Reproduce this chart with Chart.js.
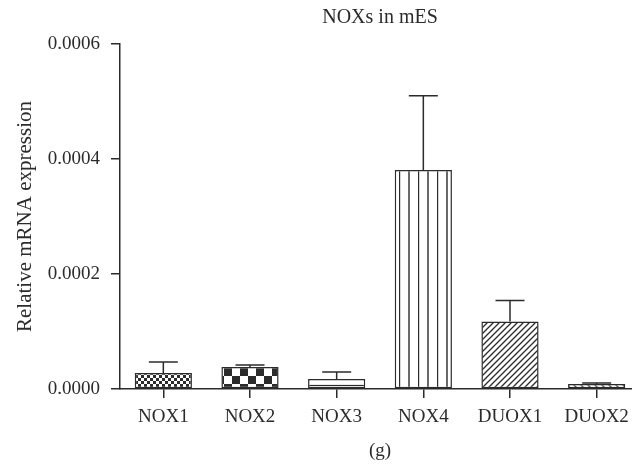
<!DOCTYPE html>
<html>
<head>
<meta charset="utf-8">
<script src="https://cdn.jsdelivr.net/npm/chart.js@4.4.0/dist/chart.umd.min.js"></script>
<style>
  html, body { margin: 0; padding: 0; background: #fff; overflow: hidden; }
</style>
</head>
<body>
<canvas id="noxChart" width="645" height="466"></canvas>
<script>
// values
const genes = ['NOX1', 'NOX2', 'NOX3', 'NOX4', 'DUOX1', 'DUOX2'];
const means = [0.0000278, 0.0000383, 0.0000174, 0.000381, 0.0001176, 0.0000087];
const errors = [0.0000192, 0.0000034, 0.0000122, 0.000129, 0.0000364, 0.0000017];
const yTicks = [0, 0.0002, 0.0004, 0.0006];

const ink = '#2b2b2b';
const serif = '"Liberation Serif", "Times New Roman", serif';

// small tile -> CanvasPattern
function makePattern(w, h, draw) {
  const c = document.createElement('canvas');
  c.width = w; c.height = h;
  const g = c.getContext('2d');
  g.fillStyle = '#fff';
  g.fillRect(0, 0, w, h);
  g.fillStyle = ink;
  g.strokeStyle = ink;
  draw(g, w, h);
  return g.createPattern(c, 'repeat');
}

const ctx = document.getElementById('noxChart').getContext('2d');

const fills = [
  // fine checker
  makePattern(6, 6, g => { g.fillRect(0, 0, 3, 3); g.fillRect(3, 3, 3, 3); }),
  // big checker
  makePattern(16, 16, g => { g.fillRect(0, 0, 8, 8); g.fillRect(8, 8, 8, 8); }),
  // horizontal lines
  makePattern(8, 8, g => { g.lineWidth = 1.2; g.beginPath(); g.moveTo(0, 1.5); g.lineTo(8, 1.5); g.stroke(); }),
  // vertical lines
  makePattern(19, 8, g => {
    g.lineWidth = 1.4;
    g.beginPath();
    g.moveTo(0.5, 0); g.lineTo(0.5, 8);
    g.moveTo(10, 0); g.lineTo(10, 8);
    g.stroke();
  }),
  // forward diagonals
  makePattern(6, 6, g => {
    g.lineWidth = 1.3;
    g.beginPath();
    g.moveTo(0, 6); g.lineTo(6, 0);
    g.moveTo(-1, 1); g.lineTo(1, -1);
    g.moveTo(5, 7); g.lineTo(7, 5);
    g.stroke();
  }),
  // back diagonals
  makePattern(7, 7, g => {
    g.lineWidth = 1.3;
    g.beginPath();
    g.moveTo(0, 0); g.lineTo(7, 7);
    g.moveTo(-1, 6); g.lineTo(1, 8);
    g.moveTo(6, -1); g.lineTo(8, 1);
    g.stroke();
  })
];

// upper error bars drawn through the y scale
const errorBars = {
  id: 'errorBars',
  afterDatasetsDraw(chart) {
    const meta = chart.getDatasetMeta(0);
    const y = chart.scales.y;
    const c = chart.ctx;
    c.save();
    c.strokeStyle = ink;
    c.lineWidth = 1.5;
    meta.data.forEach((bar, i) => {
      const top = y.getPixelForValue(means[i] + errors[i]);
      const base = y.getPixelForValue(means[i]);
      c.beginPath();
      c.moveTo(bar.x, base);
      c.lineTo(bar.x, top);
      c.moveTo(bar.x - 14.5, top);
      c.lineTo(bar.x + 14.5, top);
      c.stroke();
    });
    c.restore();
  }
};

new Chart(ctx, {
  type: 'bar',
  data: {
    labels: genes,
    datasets: [{
      data: means,
      backgroundColor: fills,
      borderColor: ink,
      borderWidth: 1.5,
      borderSkipped: false,
      barPercentage: 0.66,
      categoryPercentage: 1.0
    }]
  },
  options: {
    responsive: false,
    animation: false,
    layout: { padding: { left: 0, right: 5, top: 0, bottom: 0 } },
    plugins: {
      legend: { display: false },
      tooltip: { enabled: false },
      title: {
        display: true,
        text: 'NOXs in mES',
        fullSize: false,
        color: ink,
        font: { family: serif, size: 20, weight: 'normal' },
        padding: { top: 6, bottom: 14 }
      }
    },
    scales: {
      x: {
        offset: true,
        grid: { display: true, drawOnChartArea: false, offset: false, tickLength: 9, color: ink, lineWidth: 1.5 },
        border: { display: true, color: ink, width: 1.5 },
        ticks: { color: ink, padding: 8, font: { family: serif, size: 19 }, maxRotation: 0 },
        title: { display: true, text: '(g)', color: ink, font: { family: serif, size: 19 }, padding: { top: 4, bottom: 4 } },
        afterFit: s => { s.height = 77; }
      },
      y: {
        min: 0,
        max: 0.0006,
        afterBuildTicks: s => { s.ticks = yTicks.map(v => ({ value: v })); },
        grid: { display: true, drawOnChartArea: false, tickLength: 9, color: ink, lineWidth: 1.5 },
        border: { display: true, color: ink, width: 1.5 },
        ticks: { color: ink, padding: 11, font: { family: serif, size: 19 }, callback: v => v.toFixed(4) },
        title: { display: true, text: 'Relative mRNA expression', color: ink, font: { family: serif, size: 21 }, padding: { top: 13, bottom: 13 } },
        afterFit: s => { s.width = 120; }
      }
    }
  },
  plugins: [errorBars]
});
</script>
</body>
</html>
